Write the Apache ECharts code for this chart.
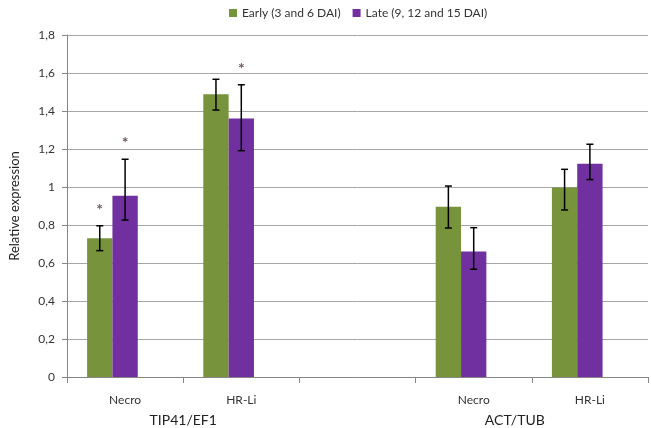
<!DOCTYPE html>
<html>
<head>
<meta charset="utf-8">
<script src="https://cdn.jsdelivr.net/npm/echarts@6/dist/echarts.min.js"></script>
<style>html,body{margin:0;padding:0;background:#fff;}#c{width:651px;height:428px;}</style>
</head>
<body>
<div id="c"></div>
<script>
// ---- data ----
const categories = ['Necro', 'HR-Li', '', 'Necro', 'HR-Li'];
const groupLabels = ['TIP41/EF1', 'ACT/TUB'];
const seriesNames = ['Early (3 and 6 DAI)', 'Late (9, 12 and 15 DAI)'];
const earlyValues = [0.73, 1.488, null, 0.896, 0.998];
const lateValues  = [0.954, 1.36, null, 0.661, 1.123];
const earlyErrLow  = [0.665, 1.405, null, 0.784, 0.879];
const earlyErrHigh = [0.796, 1.567, null, 1.005, 1.093];
const lateErrLow   = [0.826, 1.191, null, 0.567, 1.039];
const lateErrHigh  = [1.146, 1.538, null, 0.786, 1.225];
const earlySig = [1, 0, 0, 0, 0];
const lateSig  = [1, 1, 0, 0, 0];
const yTicks = [0, 0.2, 0.4, 0.6, 0.8, 1, 1.2, 1.4, 1.6, 1.8];

const GREEN = '#77933C', PURPLE = '#7030A0';
const FONT = 'Lato';
const CAT_GAP = 0.346;

function errData(lo, hi, sig) {
  const out = [];
  for (let i = 0; i < lo.length; i++) {
    if (lo[i] == null) continue;
    out.push([i, lo[i], hi[i], sig[i]]);
  }
  return out;
}
function makeErr(offset) {
  return function (params, api) {
    const cat = api.value(0), lo = api.value(1), hi = api.value(2), sig = api.value(3);
    const band = api.size([1, 0])[0];
    const bw = band * (1 - CAT_GAP) / 3;
    const x = api.coord([cat, 0])[0] + offset * bw;
    const yl = api.coord([cat, lo])[1];
    const yh = api.coord([cat, hi])[1];
    const cap = 3.5;
    const st = { stroke: '#000', lineWidth: 1.5 };
    const ch = [
      { type: 'line', shape: { x1: x, y1: yh, x2: x, y2: yl }, style: st },
      { type: 'line', shape: { x1: x - cap, y1: yh, x2: x + cap, y2: yh }, style: st },
      { type: 'line', shape: { x1: x - cap, y1: yl, x2: x + cap, y2: yl }, style: st }
    ];
    if (sig) {
      ch.push({ type: 'text', style: { text: '*', x: x, y: yh - 16, align: 'center', verticalAlign: 'middle',
        fill: '#6a5a62', font: 'bold 16px ' + FONT } });
    }
    return { type: 'group', children: ch };
  };
}

const chart = echarts.init(document.getElementById('c'), null, { renderer: 'canvas' });
const gridLeft = 62, gridRight = 3, gridTop = 35, gridBottom = 51;
chart.setOption({
  animation: false,
  textStyle: { fontFamily: FONT },
  legend: {
    data: seriesNames, top: 2, left: 224, itemWidth: 8, itemHeight: 8, itemGap: 12,
    icon: 'rect', textStyle: { fontSize: 12, color: '#333', fontFamily: FONT }
  },
  grid: { left: gridLeft, right: gridRight, top: gridTop, bottom: gridBottom },
  xAxis: {
    type: 'category', data: categories, boundaryGap: true,
    axisLine: { lineStyle: { color: '#868686', width: 1 } },
    axisTick: { show: true, length: 6, lineStyle: { color: '#868686' } },
    axisLabel: { margin: 17, fontSize: 12, color: '#333', fontFamily: FONT },
    splitLine: { show: false }
  },
  yAxis: {
    type: 'value', min: 0, max: 1.8, interval: 0.2,
    name: 'Relative expression', nameLocation: 'middle', nameGap: 46,
    nameTextStyle: { fontSize: 13, color: '#222', fontFamily: FONT },
    axisLine: { show: true, lineStyle: { color: '#868686' } },
    axisTick: { show: true, length: 5, lineStyle: { color: '#868686' } },
    axisLabel: { margin: 12, fontSize: 12, color: '#333', fontFamily: FONT,
      formatter: v => String(Math.round(v * 10) / 10).replace('.', ',') },
    splitLine: { lineStyle: { color: '#a6a6a6', width: 1 } }
  },
  series: [
    { name: seriesNames[0], type: 'bar', data: earlyValues.map(v => v == null ? '-' : v),
      itemStyle: { color: GREEN }, barGap: '0%', barCategoryGap: (CAT_GAP * 100) + '%' },
    { name: seriesNames[1], type: 'bar', data: lateValues.map(v => v == null ? '-' : v),
      itemStyle: { color: PURPLE }, barGap: '0%', barCategoryGap: (CAT_GAP * 100) + '%' },
    { name: 'spacer', type: 'bar', data: categories.map(() => '-'),
      barGap: '0%', barCategoryGap: (CAT_GAP * 100) + '%' },
    { type: 'custom', renderItem: makeErr(-1), data: errData(earlyErrLow, earlyErrHigh, earlySig),
      encode: { x: 0, y: [1, 2] }, z: 10 },
    { type: 'custom', renderItem: makeErr(0), data: errData(lateErrLow, lateErrHigh, lateSig),
      encode: { x: 0, y: [1, 2] }, z: 10 }
  ]
});

// group labels centred under their category pairs
function placeGroups() {
  const y = 420;
  const x1 = (chart.convertToPixel({ xAxisIndex: 0 }, 0) + chart.convertToPixel({ xAxisIndex: 0 }, 1)) / 2;
  const x2 = (chart.convertToPixel({ xAxisIndex: 0 }, 3) + chart.convertToPixel({ xAxisIndex: 0 }, 4)) / 2 - 17;
  chart.setOption({
    graphic: [
      { type: 'text', x: x1, y: y, style: { text: groupLabels[0], align: 'center', verticalAlign: 'middle', font: '14px ' + FONT, fill: '#222' } },
      { type: 'text', x: x2, y: y, style: { text: groupLabels[1], align: 'center', verticalAlign: 'middle', font: '14px ' + FONT, fill: '#222' } }
    ]
  });
}
placeGroups();
</script>
</body>
</html>
